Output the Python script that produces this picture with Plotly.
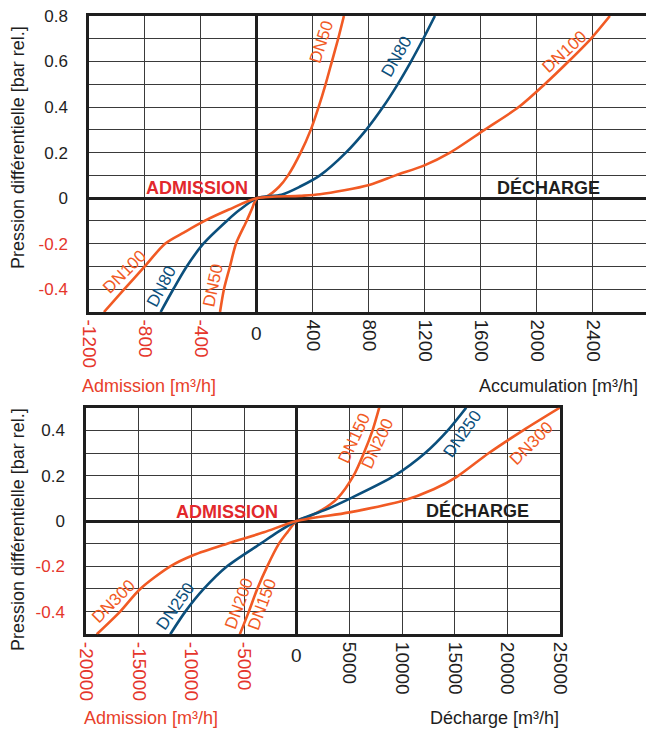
import plotly.graph_objects as go

# ---------------- DATA ----------------
# Top chart: DN50 / DN80 / DN100, flow [m3/h] vs differential pressure [bar rel.]
dn50_q = [-264, -236, -193, -150, -74, -38, 0, 70, 158, 222, 312, 384, 440, 490, 535, 580, 621]
dn50_p = [-0.5, -0.4, -0.3, -0.2, -0.1, -0.05, 0, 0.008, 0.05, 0.1, 0.2, 0.3, 0.4, 0.5, 0.6, 0.7, 0.8]

dn80_q = [-688, -598, -502, -383, -216, -121, 0, 175, 305, 450, 635, 780, 900, 1005, 1100, 1188, 1271]
dn80_p = [-0.5, -0.4, -0.3, -0.2, -0.1, -0.05, 0, 0.015, 0.05, 0.1, 0.2, 0.3, 0.4, 0.5, 0.6, 0.7, 0.8]

dn100_q = [-1093, -948, -802, -657, -520, -375, -200, 0, 307, 450, 802, 990, 1200, 1379, 1625, 1870, 2055, 2225, 2385, 2521]
dn100_p = [-0.5, -0.4, -0.3, -0.2, -0.15, -0.1, -0.05, 0, 0.01, 0.017, 0.058, 0.1, 0.145, 0.2, 0.3, 0.4, 0.5, 0.6, 0.7, 0.8]

# Bottom chart: DN150 / DN200 (overlapping), DN250, DN300
dn150_200_q = [-5397, -4543, -3746, -2794, -1683, -889, 0, 1175, 2444, 3873, 5400, 6380, 7206, 7838]
dn150_200_p = [-0.5, -0.4, -0.3, -0.2, -0.1, -0.05, 0, 0.02, 0.05, 0.1, 0.2, 0.3, 0.4, 0.5]

dn250_q = [-12000, -10571, -8825, -6603, -3429, -1841, 0, 2762, 5100, 9300, 12200, 14350, 16095]
dn250_p = [-0.5, -0.4, -0.3, -0.2, -0.1, -0.05, 0, 0.05, 0.1, 0.2, 0.3, 0.4, 0.5]

dn300_q = [-18981, -16762, -14857, -12000, -9778, -6603, -3111, 0, 5000, 10000, 13000, 15200, 18250, 21500, 24981]
dn300_p = [-0.5, -0.4, -0.3, -0.2, -0.15, -0.1, -0.05, 0, 0.038, 0.088, 0.14, 0.195, 0.3, 0.4, 0.5]

# tick values / labels
top_x_ticks = [-1200, -800, -400, 0, 400, 800, 1200, 1600, 2000, 2400, 2800]
bot_x_ticks = [-20000, -15000, -10000, -5000, 0, 5000, 10000, 15000, 20000, 25000]
top_y_ticks = [-0.5, -0.4, -0.3, -0.2, -0.1, 0, 0.1, 0.2, 0.3, 0.4, 0.5, 0.6, 0.7, 0.8]
bot_y_ticks = [-0.5, -0.4, -0.3, -0.2, -0.1, 0, 0.1, 0.2, 0.3, 0.4, 0.5]
top_y_labeled = [-0.4, -0.2, 0, 0.2, 0.4, 0.6, 0.8]
bot_y_labeled = [-0.4, -0.2, 0, 0.2, 0.4]

# ---------------- STYLE ----------------
ORANGE = "#F15A24"
BLUE = "#0B4F7C"
RED = "#E2282C"
TICKRED = "#E5352B"
DARK = "#1E1E1E"
GRID = "#3A3A3A"
FONT = "Liberation Sans, Arial, sans-serif"
W, H = 646, 729

fig = go.Figure()

def add_curve(q, p, color, xa, ya):
    fig.add_trace(go.Scatter(x=q, y=p, mode="lines", line=dict(color=color, width=2.6, shape="spline", smoothing=0.8),
                             xaxis=xa, yaxis=ya, showlegend=False, hoverinfo="skip"))

add_curve(dn50_q, dn50_p, ORANGE, "x", "y")
add_curve(dn80_q, dn80_p, BLUE, "x", "y")
add_curve(dn100_q, dn100_p, ORANGE, "x", "y")
add_curve(dn150_200_q, dn150_200_p, ORANGE, "x2", "y2")
add_curve(dn250_q, dn250_p, BLUE, "x2", "y2")
add_curve(dn300_q, dn300_p, ORANGE, "x2", "y2")

def fmt_y(v):
    return ("%.1f" % v) if abs(v) > 1e-9 else "0"

def y_ticktext(ticks, labeled):
    out = []
    for v in ticks:
        if any(abs(v - l) < 1e-9 for l in labeled):
            s = fmt_y(v)
            out.append(f'<span style="color:{TICKRED}">{s}</span>' if v < 0 else s)
        else:
            out.append("")
    return out

def x_ticktext(ticks):
    out = []
    for v in ticks:
        if v == 0:
            out.append("")
        elif v < 0:
            out.append(f'<span style="color:{TICKRED}">{v}</span>')
        else:
            out.append(str(v))
    return out

def py2p(py):
    return 1 - py / H

common_x = dict(showgrid=True, gridcolor=GRID, gridwidth=1, zeroline=True, zerolinecolor=DARK, zerolinewidth=2.5,
                showline=True, linecolor=DARK, linewidth=2.5, mirror=True, ticks="", automargin=False,
                tickangle=90, tickfont=dict(size=19, color=DARK, family=FONT), ticklabelstandoff=1,
                tickmode="array", fixedrange=True, layer="below traces")
common_y = dict(showgrid=True, gridcolor=GRID, gridwidth=1, zeroline=True, zerolinecolor=DARK, zerolinewidth=2.5,
                showline=True, linecolor=DARK, linewidth=2.5, ticks="", automargin=False,
                tickfont=dict(size=17, color=DARK, family=FONT), ticklabelstandoff=15,
                tickmode="array", fixedrange=True, layer="below traces")

fig.update_layout(
    width=W, height=H, margin=dict(l=0, r=0, t=0, b=0, autoexpand=False),
    paper_bgcolor="white", plot_bgcolor="white",
    font=dict(family=FONT, color=DARK),
    xaxis=dict(common_x, domain=[89 / W, 1.0], range=[-1200, 2779], anchor="y",
               tickvals=top_x_ticks, ticktext=x_ticktext(top_x_ticks)),
    yaxis=dict(common_y, domain=[py2p(312), py2p(16)], range=[-0.5, 0.8], anchor="x",
               mirror=False, tickvals=top_y_ticks, ticktext=y_ticktext(top_y_ticks, top_y_labeled)),
    xaxis2=dict(common_x, domain=[86 / W, 560 / W], range=[-20000, 25000], anchor="y2",
                tickvals=bot_x_ticks, ticktext=x_ticktext(bot_x_ticks)),
    yaxis2=dict(common_y, domain=[py2p(634.3), py2p(407.7)], range=[-0.5, 0.5], anchor="x2",
                mirror=True, tickvals=bot_y_ticks, ticktext=y_ticktext(bot_y_ticks, bot_y_labeled)),
)

def paper_ann(text, px, py, size, color, angle=0, xanchor="center"):
    return dict(x=px / W, xref="paper", y=py2p(py), yref="paper", text=text, textangle=angle,
                xanchor=xanchor, yanchor="middle", showarrow=False,
                font=dict(size=size, color=color, family=FONT))

ann = []
# upright "0" tick labels
ann.append(dict(x=0, xref="x", y=py2p(333), yref="paper", text="0", showarrow=False,
                xanchor="center", yanchor="middle", font=dict(size=19, color=DARK, family=FONT)))
ann.append(dict(x=0, xref="x2", y=py2p(655), yref="paper", text="0", showarrow=False,
                xanchor="center", yanchor="middle", font=dict(size=19, color=DARK, family=FONT)))

# axis titles
ann.append(paper_ann("Pression différentielle [bar rel.]", 18, 148, 18, DARK, angle=-90))
ann.append(paper_ann("Pression différentielle [bar rel.]", 18, 530, 18, DARK, angle=-90))
ann.append(paper_ann("Admission [m³/h]", 149, 386, 18, "#E8402A"))
ann.append(paper_ann("Accumulation [m³/h]", 640, 386, 18, DARK, xanchor="right"))
ann.append(paper_ann("Admission [m³/h]", 151, 718, 18, "#E8402A"))
ann.append(paper_ann("Décharge [m³/h]", 561, 718, 18, DARK, xanchor="right"))

# region labels (text, x, y, axes, color)
region_labels = [
    ("ADMISSION", -426, 0.046, "x", "y", RED),
    ("DÉCHARGE", 2086, 0.048, "x", "y", DARK),
    ("ADMISSION", -6600, 0.041, "x2", "y2", RED),
    ("DÉCHARGE", 17210, 0.048, "x2", "y2", DARK),
]
for t, x, y, xr, yr, c in region_labels:
    ann.append(dict(x=x, y=y, xref=xr, yref=yr, text=f"<b>{t}</b>", showarrow=False,
                    xanchor="center", yanchor="middle", font=dict(size=18, color=c, family=FONT)))

# curve name labels (text, x, y, angle, axes, color)
curve_labels = [
    ("DN50", 464, 0.686, -72, "x", "y", ORANGE),
    ("DN80", 998, 0.621, -60, "x", "y", BLUE),
    ("DN100", 2200, 0.643, -42, "x", "y", ORANGE),
    ("DN100", -943, -0.322, -45, "x", "y", ORANGE),
    ("DN80", -681, -0.389, -62, "x", "y", BLUE),
    ("DN50", -312, -0.385, -78, "x", "y", ORANGE),
    ("DN150", 5457, 0.364, -65, "x2", "y2", ORANGE),
    ("DN200", 7686, 0.342, -65, "x2", "y2", ORANGE),
    ("DN250", 15781, 0.385, -55, "x2", "y2", BLUE),
    ("DN300", 22286, 0.342, -45, "x2", "y2", ORANGE),
    ("DN300", -17400, -0.355, -45, "x2", "y2", ORANGE),
    ("DN250", -11524, -0.377, -55, "x2", "y2", BLUE),
    ("DN200", -5495, -0.362, -70, "x2", "y2", ORANGE),
    ("DN150", -3267, -0.369, -70, "x2", "y2", ORANGE),
]
for t, x, y, a, xr, yr, c in curve_labels:
    ann.append(dict(x=x, y=y, xref=xr, yref=yr, text=t, textangle=a, showarrow=False,
                    xanchor="center", yanchor="middle", font=dict(size=17, color=c, family=FONT)))

fig.update_layout(annotations=ann)
fig.write_html("out.html", config={"displayModeBar": False},
               post_script="document.body.style.margin='0';document.body.style.overflow='hidden';")
